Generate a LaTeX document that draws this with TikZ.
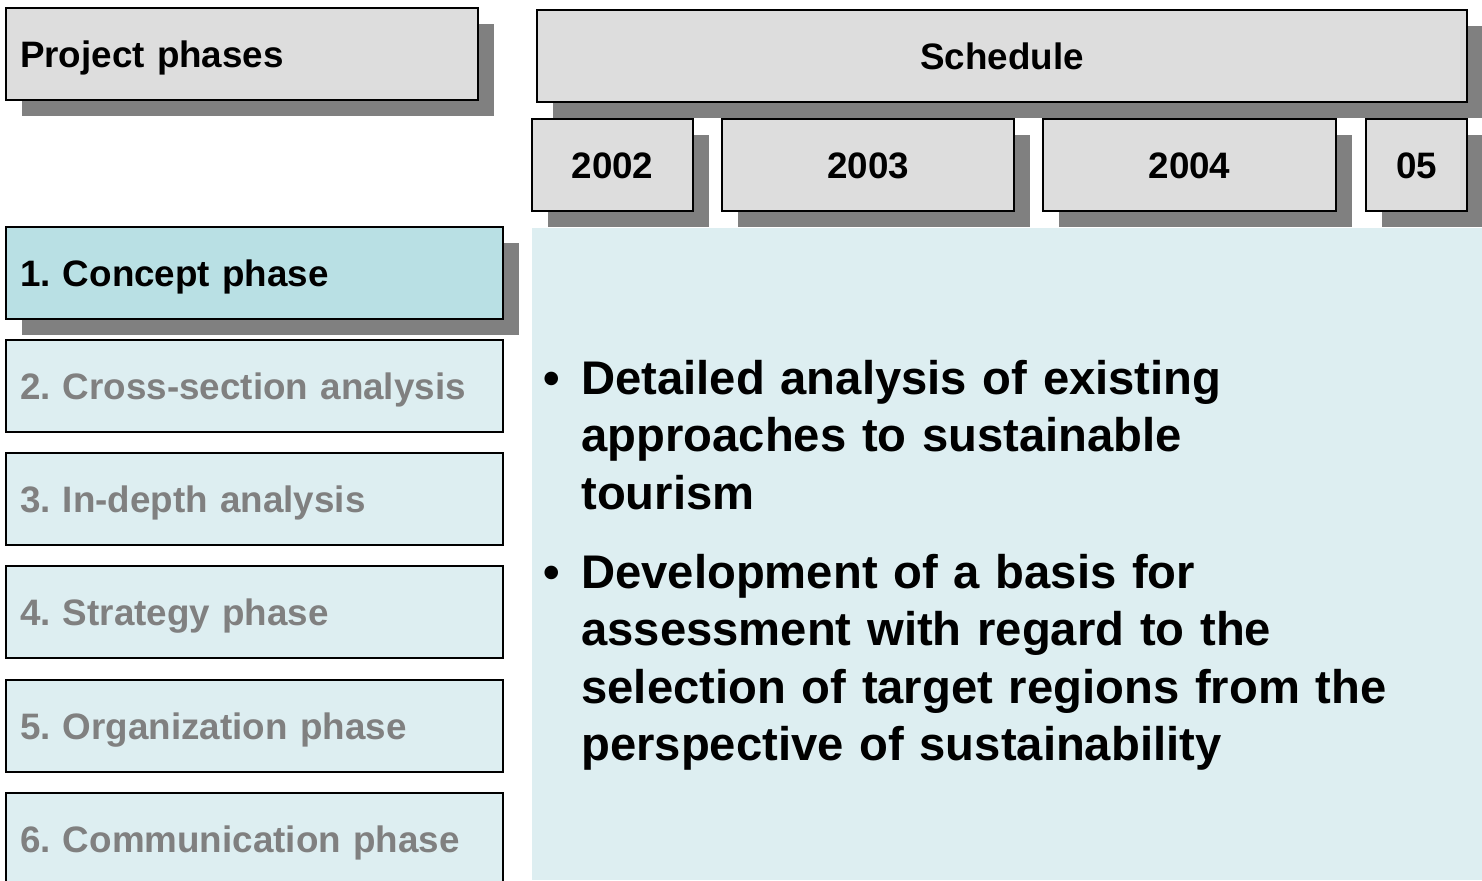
\documentclass[tikz,border=0pt]{standalone}
\usepackage{fontspec}
\setmainfont{Liberation Sans}
\usetikzlibrary{shadows}
\frenchspacing
\definecolor{boxgray}{HTML}{DDDDDD}
\definecolor{shadowc}{HTML}{808080}
\definecolor{concept}{HTML}{B9E0E4}
\definecolor{panelc}{HTML}{DDEEF1}
\definecolor{dimtext}{HTML}{808080}
\tikzset{
  base/.style={draw=black, line width=0.9pt, inner ysep=0pt, minimum height=46pt,
    font=\fontsize{18.4}{22}\selectfont\bfseries, text height=13.2pt, text depth=0pt},
  shad/.style={general shadow={fill=shadowc, shadow xshift=8pt, shadow yshift=-8pt}},
  graybox/.style={base, shad, fill=boxgray, align=center},
  leftbox/.style={base, inner xsep=7pt, align=left},
  phasebox/.style={leftbox, fill=panelc, text=dimtext, text width=234.5pt, minimum width=248.5pt},
  bullettext/.style={inner sep=0pt, anchor=base west, text width=440pt, align=left,
    font=\fontsize{23.6}{28.8}\selectfont\bfseries},
}
\newcommand{\bul}{\llap{\textbullet\hspace{10.5pt}}}
\begin{document}
\begin{tikzpicture}[x=0.5pt, y=-0.5pt]
\useasboundingbox (0,0) rectangle (1482,880);
\fill[white] (0,0) rectangle (1482,880);
% panel
\fill[panelc] (532,228) rectangle (1482,880);
% headers
\node[leftbox, shad, fill=boxgray, text width=222pt, minimum width=236pt] (pp) at (242,54) {Project phases};
\node[graybox, minimum width=465pt] (sched) at (1002,56) {Schedule};
\node[graybox, minimum width=80.5pt] (y02) at (612.5,165) {2002};
\node[graybox, minimum width=146pt] (y03) at (868,165) {2003};
\node[graybox, minimum width=146.5pt] (y04) at (1189.5,165) {2004};
\node[graybox, minimum width=50.5pt] (y05) at (1416.5,165) {05};
% phases
\node[phasebox, shad, fill=concept, text=black] (ph1) at (254.5,273) {1. Concept phase};
\node[phasebox] (ph2) at (254.5,386) {2. Cross-section analysis};
\node[phasebox] (ph3) at (254.5,499) {3. In-depth analysis};
\node[phasebox] (ph4) at (254.5,612) {4. Strategy phase};
\node[phasebox] (ph5) at (254.5,726) {5. Organization phase};
\node[phasebox] (ph6) at (254.5,839) {6. Communication phase};
% bullets
\node[bullettext] (b1) at (581,394) {\bul Detailed analysis of existing\\approaches to sustainable\\tourism};
\node[bullettext] (b2) at (581,588) {\bul Development of a basis for\\assessment with regard to the\\selection of target regions from the\\perspective of sustainability};
\end{tikzpicture}
\end{document}
